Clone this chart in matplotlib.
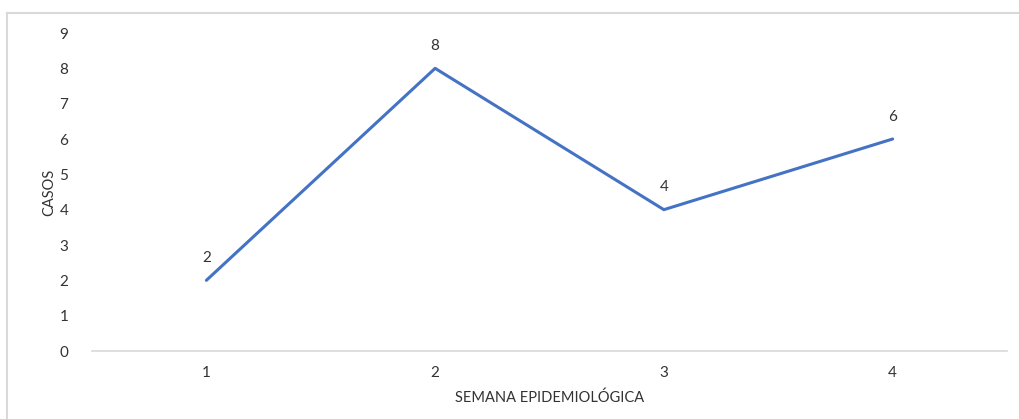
import matplotlib
matplotlib.use("Agg")
import matplotlib.pyplot as plt
from matplotlib.lines import Line2D

# data
semanas = [1, 2, 3, 4]
casos = [2, 8, 4, 6]
y_ticks = list(range(0, 10))

plt.rcParams['font.family'] = ['Lato', 'DejaVu Sans']
txt_color = '#333333'

fig = plt.figure(figsize=(10.19, 4.19), dpi=100)
ax = fig.add_axes([92/1019, (419-351)/419, (1007-92)/1019, (351-33)/419])

ax.plot(semanas, casos, color='#4472C4', linewidth=2.2, solid_capstyle='round')
for x, y in zip(semanas, casos):
    ax.annotate(str(y), (x, y), xytext=(0, 11), textcoords='offset points',
                ha='center', va='bottom', fontsize=11, color=txt_color)

ax.set_xlim(0.5, 4.5)
ax.set_ylim(0, 9)
ax.set_xticks(semanas)
ax.set_yticks(y_ticks)
ax.tick_params(length=0, labelsize=11, colors=txt_color)
ax.tick_params(axis='x', pad=11)
ax.tick_params(axis='y', pad=17)
for s in ['top', 'right', 'left']:
    ax.spines[s].set_visible(False)
ax.spines['bottom'].set_color('#d9d9d9')
ax.spines['bottom'].set_linewidth(1.2)

ax.set_xlabel('SEMANA EPIDEMIOLÓGICA', fontsize=10.5, color=txt_color, labelpad=7)
ax.set_ylabel('CASOS', fontsize=10.5, color=txt_color, labelpad=2)

# chart border (only left and top visible in crop)
fig.add_artist(Line2D([7/1019, 7/1019], [0, 1 - 13/419], transform=fig.transFigure,
                      color='#d9d9d9', linewidth=1.5))
fig.add_artist(Line2D([7/1019, 1], [1 - 13/419, 1 - 13/419], transform=fig.transFigure,
                      color='#d9d9d9', linewidth=1.5))

fig.savefig('out.png', dpi=100)
